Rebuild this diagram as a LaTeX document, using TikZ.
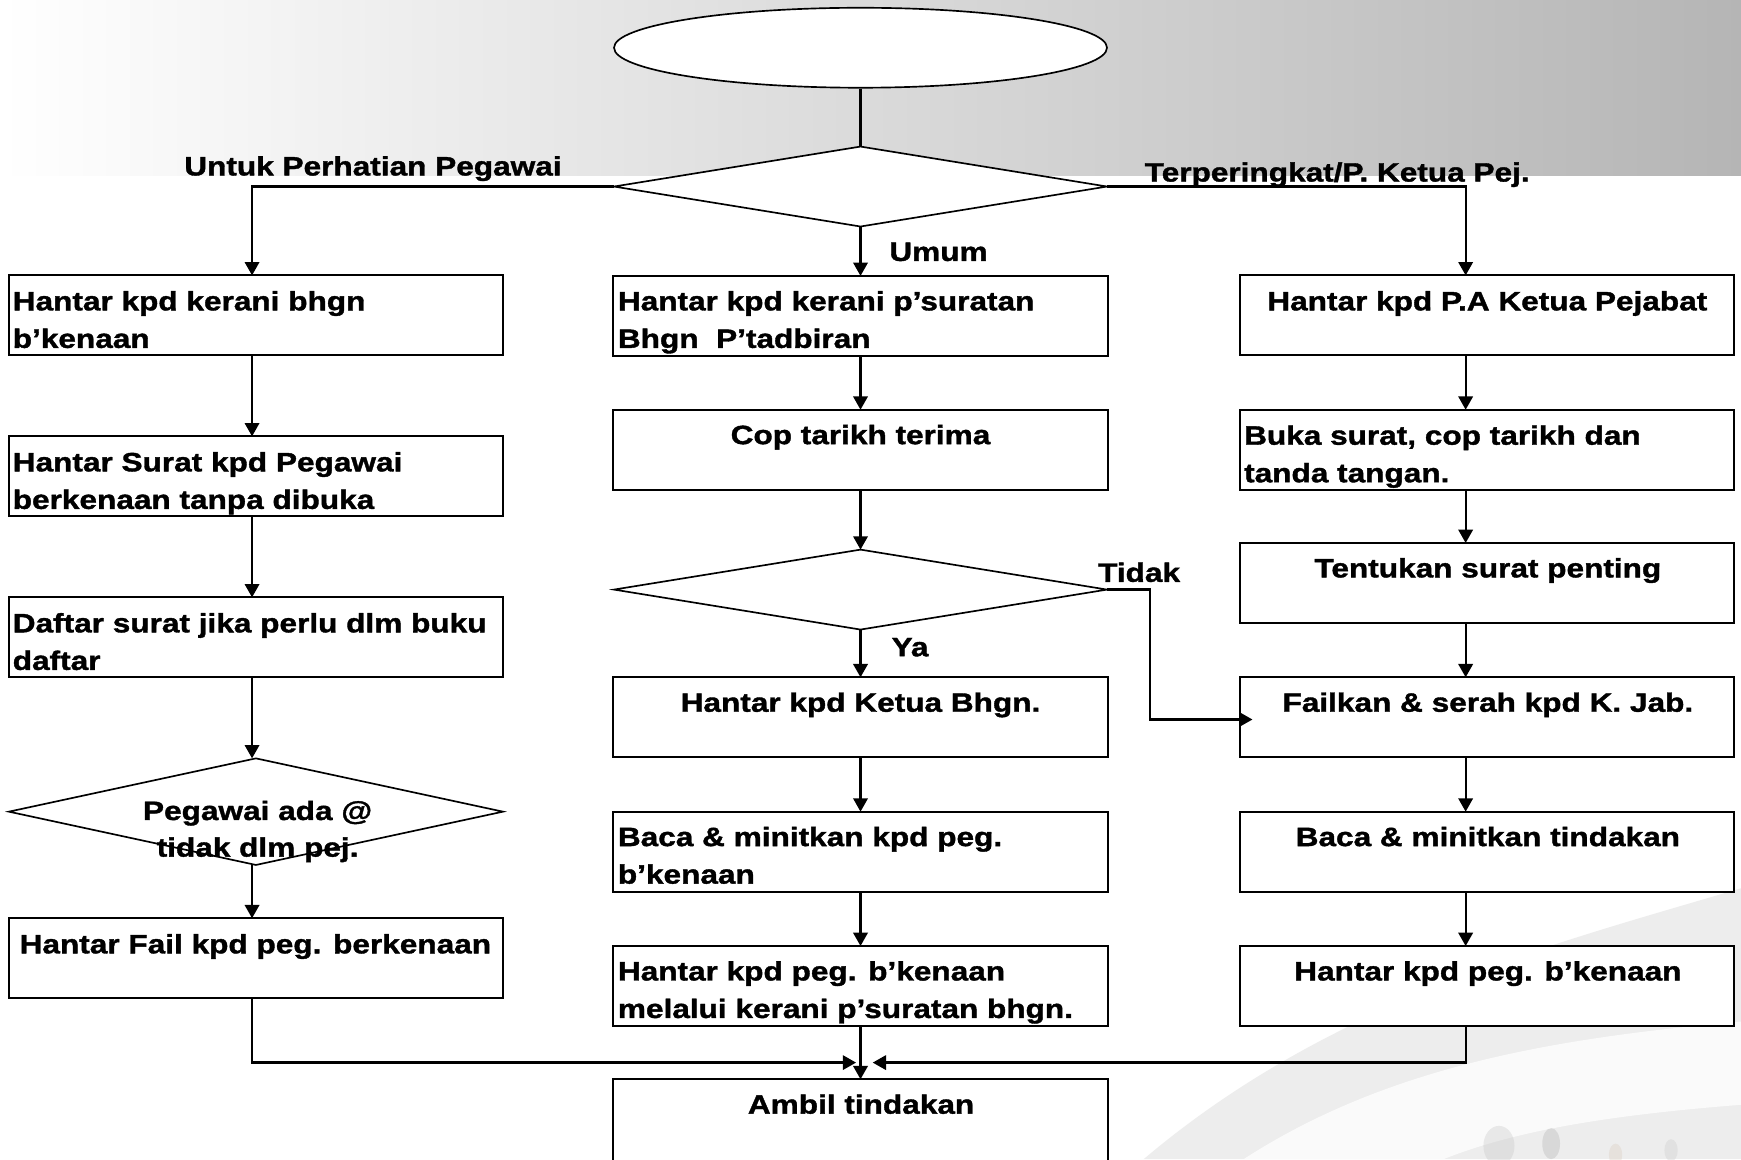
\documentclass[tikz,border=0pt]{standalone}
\usepackage{fontspec}
\newfontfamily\fc{Liberation Sans}[FakeStretch=1.19, FakeBold=1.4]
\usetikzlibrary{shapes.geometric,arrows.meta}
\newcommand{\fst}{\rule{0pt}{20pt}}
\tikzset{
 bx/.style={draw, line width=1.8pt, fill=white, minimum width=445pt, minimum height=72pt, inner sep=0pt, outer sep=0pt},
 dia/.style={diamond, draw, line width=1.5pt, fill=white, inner sep=0pt, outer sep=0pt},
 arr/.style={line width=2pt, -{Triangle[length=12pt,width=13pt]}},
 ln/.style={line width=2pt},
 tx/.style={font=\fontsize{23.9}{33.8}\selectfont\fc\bfseries, inner sep=0pt, outer sep=0pt},
}
\begin{document}
\begin{tikzpicture}[x=1pt,y=-1pt]
\useasboundingbox (0,0) rectangle (1568,1044);
\clip (0,0) rectangle (1568,1044);
\fill[white] (0,0) rectangle (1568,1044);
% background band and swoosh
\shade[left color=white, right color=black!29] (0,0) rectangle (1568,158);
\fill[black!7] (1030,1044) .. controls (1200,900) and (1400,850) .. (1568,800) -- (1568,1044) -- cycle;
\fill[white, opacity=0.75] (1120,1044) .. controls (1250,960) and (1400,935) .. (1568,920) -- (1568,995) .. controls (1440,1005) and (1360,1020) .. (1300,1044) -- cycle;
\fill[black!22, opacity=0.35] (1350,1032) ellipse (14pt and 18pt);
\fill[black!30, opacity=0.35] (1397,1030) ellipse (8pt and 14pt);
\fill[orange!40!black!25, opacity=0.35] (1455,1040) ellipse (6pt and 10pt);
\fill[black!20, opacity=0.35] (1505,1036) ellipse (6pt and 10pt);

% shapes
\node[ellipse, draw, line width=1.5pt, fill=white, minimum width=444pt, minimum height=72pt, inner sep=0pt] (E) at (775,43) {};
\node[dia, minimum width=444pt, minimum height=72pt] (D1) at (775,168) {};

\node[bx] (L1) at (230.5,284) {};
\node[bx] (L2) at (230.5,429) {};
\node[bx] (L3) at (230.5,574) {};
\node[dia, minimum width=445pt, minimum height=96pt] (LD) at (230.5,731) {};
\node[bx] (L4) at (230.5,863) {};

\node[bx] (M1) at (775,284.5) {};
\node[bx] (M2) at (775,405) {};
\node[dia, minimum width=444pt, minimum height=72pt] (D2) at (775,531) {};
\node[bx] (M3) at (775,646) {};
\node[bx] (M4) at (775,767) {};
\node[bx] (M5) at (775,888) {};
\node[bx, minimum height=120pt] (M6) at (775,1032) {};

\node[bx] (R1) at (1339.5,284) {};
\node[bx] (R2) at (1339.5,405) {};
\node[bx] (R3) at (1339.5,525) {};
\node[bx] (R4) at (1339.5,646) {};
\node[bx] (R5) at (1339.5,767) {};
\node[bx] (R6) at (1339.5,888) {};

% helper coordinates
\coordinate (cL) at (227,0);
\coordinate (cR) at (1320,0);
\coordinate (jL) at (771,957);
\coordinate (jR) at (786,957);
\coordinate (kk) at (1036,648);

% connectors
\draw[ln] (E.south) -- (D1.north);
\draw[arr] (D1.west) -| (L1.north -| cL);
\draw[arr] (D1.east) -| (R1.north -| cR);
\draw[arr] (D1.south) -- (M1.north);

\draw[arr] (L1.south -| cL) -- (L2.north -| cL);
\draw[arr] (L2.south -| cL) -- (L3.north -| cL);
\draw[arr] (L3.south -| cL) -- (LD.north -| cL);
\draw[arr] (LD.south -| cL) -- (L4.north -| cL);
\draw[arr] (L4.south -| cL) |- (jL);

\draw[arr] (M1.south) -- (M2.north);
\draw[arr] (M2.south) -- (D2.north);
\draw[arr] (D2.south) -- (M3.north);
\draw[arr] (M3.south) -- (M4.north);
\draw[arr] (M4.south) -- (M5.north);
\draw[arr] (M5.south) -- (M6.north);
\draw[arr, shorten >=-11pt] (D2.east) -| (kk) -- (R4.west |- kk);

\draw[arr] (R1.south -| cR) -- (R2.north -| cR);
\draw[arr] (R2.south -| cR) -- (R3.north -| cR);
\draw[arr] (R3.south -| cR) -- (R4.north -| cR);
\draw[arr] (R4.south -| cR) -- (R5.north -| cR);
\draw[arr] (R5.south -| cR) -- (R6.north -| cR);
\draw[arr] (R6.south -| cR) |- (jR);

% texts
\node[tx, anchor=north west, align=left] (L1t) at (11.5,259.5) {\fst Hantar kpd kerani bhgn\\b’kenaan};
\node[tx, anchor=north west, align=left] (L2t) at (11.5,404.5) {\fst Hantar Surat kpd Pegawai\\berkenaan tanpa dibuka};
\node[tx, anchor=north west, align=left] (L3t) at (11.5,549.5) {\fst Daftar surat jika perlu dlm buku\\daftar};
\node[tx, anchor=north, align=center, font=\fontsize{23.9}{33}\selectfont\fc\bfseries] (LDt) at (232,718.5) {\fst Pegawai ada @\\tidak dlm pej.};
\node[tx, anchor=base] (L4t) at (230,858.6) {Hantar Fail kpd peg. berkenaan};

\node[tx, anchor=north west, align=left] (M1t) at (556.5,259.5) {\fst Hantar kpd kerani p’suratan\\Bhgn~ P’tadbiran};
\node[tx, anchor=base] (M2t) at (775,400) {Cop tarikh terima};
\node[tx, anchor=base] (M3t) at (775,641) {Hantar kpd Ketua Bhgn.};
\node[tx, anchor=north west, align=left] (M4t) at (556.5,742) {\fst Baca \& minitkan kpd peg.\\b’kenaan};
\node[tx, anchor=north west, align=left] (M5t) at (556.5,863) {\fst Hantar kpd peg. b’kenaan\\melalui kerani p’suratan bhgn.};
\node[tx, anchor=base] (M6t) at (775.5,1003) {Ambil tindakan};

\node[tx, anchor=base] (R1t) at (1339.5,279.5) {Hantar kpd P.A Ketua Pejabat};
\node[tx, anchor=north west, align=left] (R2t) at (1120.5,380.5) {\fst Buka surat, cop tarikh dan\\tanda tangan.};
\node[tx, anchor=base] (R3t) at (1340,520) {Tentukan surat penting};
\node[tx, anchor=base] (R4t) at (1340,641) {Failkan \& serah kpd K. Jab.};
\node[tx, anchor=base] (R5t) at (1340,762) {Baca \& minitkan tindakan};
\node[tx, anchor=base] (R6t) at (1340,883) {Hantar kpd peg. b’kenaan};

% branch labels
\node[tx, anchor=base west] (lbUP) at (166,158) {Untuk Perhatian Pegawai};
\node[tx, anchor=base west] (lbTP) at (1031,163.5) {Terperingkat/P. Ketua Pej.};
\node[tx, anchor=base west] (lbUm) at (801,235) {Umum};
\node[tx, anchor=base west] (lbTi) at (989,524) {Tidak};
\node[tx, anchor=base west] (lbYa) at (803,591) {Ya};
\end{tikzpicture}
\end{document}
